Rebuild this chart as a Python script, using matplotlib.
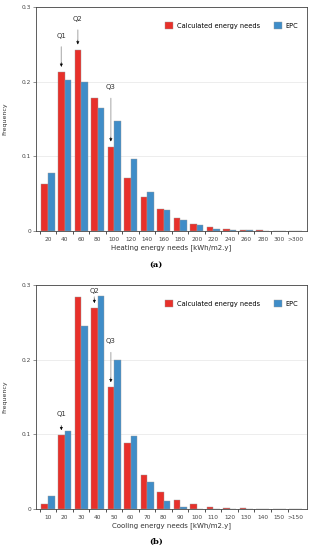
import numpy as np
import matplotlib
matplotlib.use('Agg')
import matplotlib.pyplot as plt

# Heating (a)
heat_labels = ['20','40','60','80','100','120','140','160','180','200',
               '220','240','260','280','300','>300']
heat_calc = [0.063,0.213,0.243,0.178,0.113,0.071,0.045,0.029,0.0175,0.010,
             0.0058,0.0031,0.0018,0.0009,0.0005,0.0005]
heat_epc  = [0.078,0.202,0.200,0.165,0.147,0.097,0.052,0.028,0.015,0.0076,
             0.0031,0.0018,0.0009,0.0005,0.0002,0.0002]

# Cooling (b)
cool_labels = ['10','20','30','40','50','60','70','80','90','100',
               '110','120','130','140','150','>150']
cool_calc = [0.0063,0.0987,0.284,0.269,0.163,0.089,0.046,0.0228,0.0116,0.0063,
             0.003,0.0018,0.0009,0.0003,0.0002,0.0002]
cool_epc  = [0.017,0.104,0.2455,0.286,0.1996,0.0973,0.0366,0.0112,0.003,0.0004,
             0.0002,0.0001,0.0,0.0,0.0,0.0]

RED = '#E8302A'
BLUE = '#3F8DC8'
EDGE = '#9a9a9a'

fig = plt.figure(figsize=(3.12, 5.5), dpi=100)
fig.patch.set_facecolor('white')

def panel(rect, labels, calc, epc, xlabel, quart):
    ax = fig.add_axes(rect)
    x = np.arange(len(labels))
    ax.bar(x - 0.2, calc, width=0.4, color=RED, edgecolor=EDGE, linewidth=0.3,
           label='Calculated energy needs', zorder=3)
    ax.bar(x + 0.2, epc, width=0.4, color=BLUE, edgecolor=EDGE, linewidth=0.3,
           label='EPC', zorder=3)
    ax.set_xlim(-0.74, len(labels) - 0.32)
    ax.set_ylim(0, 0.3)
    ax.set_yticks([0, 0.1, 0.2, 0.3])
    ax.set_yticklabels(['0', '0.1', '0.2', '0.3'])
    ax.yaxis.grid(True, color='#e6e6e6', linewidth=0.5, zorder=0)
    ax.set_xticks(x)
    ax.set_xticklabels(labels)
    ax.set_xticks(np.arange(len(labels)) - 0.5, minor=True)
    ax.tick_params(axis='x', which='major', length=0, labelsize=4.2,
                   labelcolor='#444444', pad=4)
    ax.tick_params(axis='x', which='minor', length=2.5, width=0.6, color='#333333')
    ax.tick_params(axis='y', length=2, width=0.5, labelsize=4.2,
                   labelcolor='#444444', pad=1.5, color='#666666')
    for s in ax.spines.values():
        s.set_color('#444444')
        s.set_linewidth(0.6)
    ax.set_xlabel(xlabel, fontsize=5, color='#333333', labelpad=2)
    ax.set_ylabel('Frequency', fontsize=4.5, color='#333333', labelpad=8)
    ax.yaxis.set_label_coords(-0.105, 0.5)
    for name, idx, ty in quart:
        tip = calc[idx] + 0.007
        # grey shaft
        ax.annotate(name, xy=(idx - 0.2, tip + 0.004), xytext=(idx - 0.2, ty),
                    fontsize=5, color='#333333', ha='center', va='center',
                    arrowprops=dict(arrowstyle='-', color='#b0b0b0',
                                    lw=0.8, shrinkA=4, shrinkB=0))
        # black head
        ax.annotate('', xy=(idx - 0.2, tip), xytext=(idx - 0.2, tip + 0.006),
                    arrowprops=dict(arrowstyle='-|>', color='black', lw=0.3,
                                    mutation_scale=4.5, shrinkA=0, shrinkB=0))
    ax.legend(loc='upper right', fontsize=4.8, frameon=False, ncol=2,
              handlelength=1.2, handleheight=1.2, handletextpad=0.6,
              columnspacing=2.0, bbox_to_anchor=(0.99, 0.96))
    return ax

panel([0.115, 0.58, 0.869, 0.407], heat_labels, heat_calc, heat_epc,
      'Heating energy needs [kWh/m2.y]',
      [('Q1', 1, 0.262), ('Q2', 2, 0.2846), ('Q3', 4, 0.193)])
fig.text(0.5, 1 - 265 / 550, '(a)', fontsize=6, family='DejaVu Serif',
         fontweight='bold', ha='center', va='center')

panel([0.115, 0.0745, 0.869, 0.407], cool_labels, cool_calc, cool_epc,
      'Cooling energy needs [kWh/m2.y]',
      [('Q1', 1, 0.127), ('Q2', 3, 0.292), ('Q3', 4, 0.225)])
fig.text(0.5, 1 - 542 / 550, '(b)', fontsize=6, family='DejaVu Serif',
         fontweight='bold', ha='center', va='center')

fig.savefig('out.png', dpi=100, facecolor='white')
